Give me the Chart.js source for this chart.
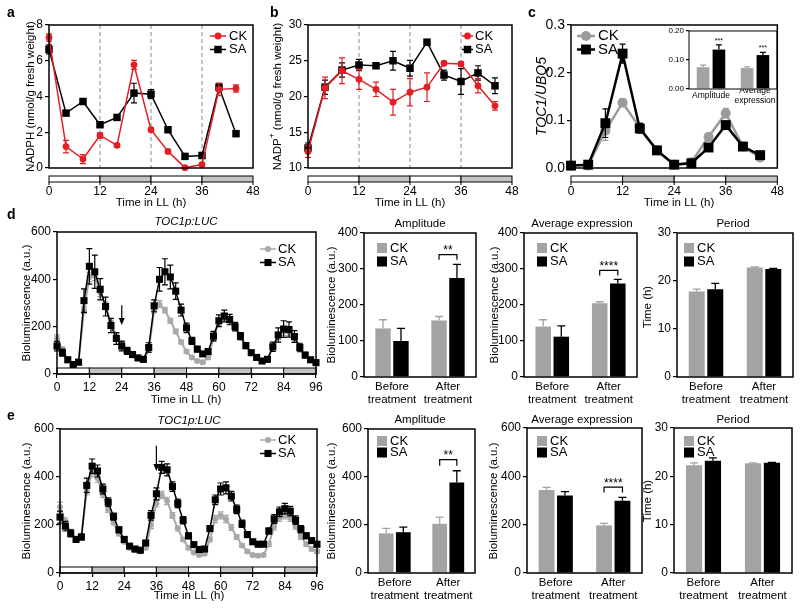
<!DOCTYPE html>
<html><head><meta charset="utf-8">
<script src="https://cdn.jsdelivr.net/npm/chart.js@4.4.1/dist/chart.umd.min.js"></script>
<style>
html,body{margin:0;padding:0;background:#fff;}
body{width:800px;height:610px;position:relative;overflow:hidden;}
canvas{position:absolute;left:0;top:0;}
</style></head><body>
<script>
// ---------- DATA ----------
const hoursABC = [0,4,8,12,16,20,24,28,32,36,40,44];
const nadphCK = [7.3,1.2,0.5,1.82,1.27,5.77,2.14,0.93,0.02,0.19,4.4,4.45];
const nadphCKErr = [0.2,0.35,0.25,0.15,0.1,0.25,0.1,0.1,0.05,0.1,0.35,0.2];
const nadphSA = [6.64,3.07,3.72,2.42,2.83,4.19,4.13,2.14,0.65,0.7,4.52,1.92];
const nadphSAErr = [0.25,0.12,0.12,0.1,0.08,0.55,0.25,0.1,0.05,0.1,0.2,0.1];

const nadpCK = [12.3,21.2,23.6,22.4,21.0,19.2,20.6,21.3,24.65,24.56,21.5,18.7];
const nadpCKErr = [0.8,1.5,1.8,1.4,1.0,1.8,1.9,2.0,0.2,0.3,1.0,0.6];
const nadpSA = [12.8,21.3,23.7,24.4,24.3,25.0,23.95,27.6,23.0,22.1,23.3,21.5];
const nadpSAErr = [0.7,1.0,1.0,0.8,0.3,1.3,1.1,0.3,0.7,1.8,1.0,1.1];

const toc1CK = [0.005,0.005,0.078,0.137,0.085,0.037,0.007,0.012,0.065,0.115,0.045,0.022];
const toc1CKErr = [0.003,0.002,0.02,0.008,0.01,0.004,0.003,0.003,0.008,0.01,0.004,0.003];
const toc1SA = [0.005,0.007,0.094,0.24,0.083,0.037,0.007,0.01,0.043,0.09,0.045,0.027];
const toc1SAErr = [0.003,0.003,0.03,0.02,0.01,0.004,0.003,0.003,0.008,0.008,0.004,0.003];

const insetCats = ['Amplitude', ['Average','expression']];
const insetCK = [0.075, 0.072];
const insetCKErr = [0.007, 0.004];
const insetSA = [0.136, 0.117];
const insetSAErr = [0.016, 0.009];

const hoursDE = [0,2,4,6,8,10,12,14,16,18,20,22,24,26,28,30,32,34,36,38,40,42,44,46,48,50,52,54,56,58,60,62,64,66,68,70,72,74,76,78,80,82,84,86,88,90,92,94,96];
const dSA = [118,90,60,40,50,310,455,432,358,285,205,150,118,98,82,68,62,112,288,400,432,410,350,270,195,140,105,85,95,160,225,245,230,200,160,120,90,70,55,62,115,165,190,188,158,112,80,60,48];
const dSAErr = [20,15,10,8,10,50,75,70,45,40,30,25,20,15,12,10,10,20,25,50,55,50,35,25,20,15,12,10,12,20,25,25,22,18,15,12,10,8,8,10,20,30,35,32,25,18,12,10,8];
const dCK = [150,105,62,42,50,270,410,415,345,290,215,165,130,100,80,66,60,100,270,295,270,225,180,135,95,70,55,50,70,150,220,238,228,195,155,115,88,68,55,62,110,160,180,178,150,108,78,58,46];
const dCKErr = [15,10,8,6,8,15,20,20,18,15,12,10,10,8,8,6,6,10,12,15,12,10,10,8,8,6,6,6,8,12,15,15,12,10,10,8,6,6,6,8,12,15,18,15,12,10,8,6,6];

const eSA = [233,195,165,140,150,365,445,425,350,295,235,180,140,112,100,95,125,240,330,440,430,360,290,220,155,118,98,100,185,305,350,355,320,265,205,160,130,120,120,175,225,255,268,258,220,182,155,135,120];
const eSAErr = [25,20,15,12,12,30,30,25,20,18,15,12,10,10,8,8,10,20,25,25,25,20,18,15,12,10,8,8,12,20,25,25,20,18,15,12,10,10,10,12,18,20,22,20,18,15,12,10,10];
const eCK = [275,215,170,140,150,345,420,395,330,265,210,165,130,105,95,90,105,200,290,325,300,240,185,140,105,85,75,80,140,225,240,225,190,150,115,90,75,72,75,120,195,230,240,230,195,150,120,100,90];
const eCKErr = [20,15,12,10,10,20,20,18,15,12,10,10,8,8,6,6,8,15,15,15,15,12,10,8,8,6,6,6,10,15,15,15,12,10,8,6,6,6,6,10,15,15,15,15,12,10,8,8,8];

const barCats = [['Before','treatment'],['After','treatment']];
const dAmpCK = [135,157], dAmpCKErr = [24,11], dAmpSA = [100,275], dAmpSAErr = [35,38];
const dAvgCK = [140,205], dAvgCKErr = [19,4], dAvgSA = [112,260], dAvgSAErr = [30,11];
const dPerCK = [17.8,22.8], dPerCKErr = [0.5,0.12], dPerSA = [18.3,22.5], dPerSAErr = [1.2,0.15];
const eAmpCK = [165,205], eAmpCKErr = [21,28], eAmpSA = [170,377], eAmpSAErr = [21,49];
const eAvgCK = [343,197], eAvgCKErr = [11,8], eAvgSA = [321,299], eAvgSAErr = [16,14];
const ePerCK = [22.3,22.7], ePerCKErr = [0.5,0.1], ePerSA = [23.2,22.8], ePerSAErr = [0.6,0.1];

const ldBounds48 = [0,12,24,36,48];
const ldBounds96 = [0,12,24,36,48,60,72,84,96];

// ---------- STYLE ----------
const FF = "'Liberation Sans', Arial, Helvetica, sans-serif";
const F = (s, st) => (st ? st + ' ' : '') + s + 'px ' + FF;
Chart.defaults.font.family = FF;
Chart.defaults.font.size = 12;
Chart.defaults.color = '#000';
const RED = '#e31e25', LGRAY = '#a9a9a9', CGRAY = '#9b9b9b', BGRAY = '#a3a3a5', BAND = '#c4c4c4';

function marker(ctx, kind, x, y, r, color) {
  ctx.fillStyle = color;
  if (kind === 'rect') { const h = r * Math.SQRT1_2; ctx.fillRect(x - h, y - h, 2 * h, 2 * h); }
  else if (kind === 'square') { ctx.fillRect(x, y - r, 2 * r, 2 * r); }
  else { ctx.beginPath(); ctx.arc(x, y, r, 0, Math.PI * 2); ctx.fill(); }
}
function drawText(ctx, T) {
  ctx.save();
  ctx.translate(T.x, T.y);
  if (T.rot) ctx.rotate(-Math.PI / 2);
  const segs = T.segs || [{ t: T.t }];
  let w = 0;
  segs.forEach(s => { ctx.font = s.f || T.f; s._w = ctx.measureText(s.t).width; w += s._w; });
  let x = T.a === 'left' ? 0 : (T.a === 'right' ? -w : -w / 2);
  ctx.textBaseline = 'middle'; ctx.textAlign = 'left'; ctx.fillStyle = T.c || '#000';
  segs.forEach(s => { ctx.font = s.f || T.f; ctx.fillText(s.t, x, s.dy || 0); x += s._w; });
  ctx.restore();
}
function drawBand(ctx, xs, bounds, y0, y1) {
  ctx.save();
  ctx.lineWidth = 1; ctx.strokeStyle = '#000';
  for (let i = 0; i < bounds.length - 1; i++) {
    const a = xs.getPixelForValue(bounds[i]), b = xs.getPixelForValue(bounds[i + 1]);
    ctx.fillStyle = i % 2 ? BAND : '#fff';
    ctx.fillRect(a, y0, b - a, y1 - y0);
    ctx.strokeRect(a, y0, b - a, y1 - y0);
  }
  ctx.restore();
}

const decor = {
  id: 'decor',
  beforeDatasetsDraw(chart, args, o) {
    const ctx = chart.ctx, ca = chart.chartArea, xs = chart.scales.x;
    if (o.vlines) {
      ctx.save(); ctx.strokeStyle = '#8a8a8a'; ctx.lineWidth = 1; ctx.setLineDash([4, 3]);
      o.vlines.forEach(v => { const p = xs.getPixelForValue(v); ctx.beginPath(); ctx.moveTo(p, ca.top); ctx.lineTo(p, ca.bottom); ctx.stroke(); });
      ctx.restore();
    }
    if (o.innerBand) drawBand(ctx, xs, o.innerBand.bounds, ca.bottom - o.innerBand.h, ca.bottom);
  },
  afterDatasetDraw(chart, args) {
    const ds = chart.data.datasets[args.index];
    if (!ds.err) return;
    const ctx = chart.ctx, ys = chart.scales.y;
    ctx.save(); ctx.strokeStyle = ds.errColor || ds.borderColor; ctx.lineWidth = ds.errWidth || 1.2;
    const cap = ds.cap || 3;
    args.meta.data.forEach((el, i) => {
      const raw = ds.data[i]; const v = (typeof raw === 'object') ? raw.y : raw; const e = ds.err[i];
      const x = el.x, yT = ys.getPixelForValue(v + e), yB = ys.getPixelForValue(ds.upOnly ? v : v - e);
      ctx.beginPath(); ctx.moveTo(x, yB); ctx.lineTo(x, yT);
      ctx.moveTo(x - cap, yT); ctx.lineTo(x + cap, yT);
      if (!ds.upOnly) { ctx.moveTo(x - cap, yB); ctx.lineTo(x + cap, yB); }
      ctx.stroke();
    });
    ctx.restore();
  },
  afterDraw(chart, args, o) {
    const ctx = chart.ctx, ca = chart.chartArea, xs = chart.scales.x, ys = chart.scales.y;
    ctx.save();
    if (o.outerBand) {
      const B = o.outerBand;
      drawBand(ctx, xs, B.bounds, B.y0, B.y1);
      ctx.strokeStyle = '#000'; ctx.lineWidth = 1;
      B.bounds.forEach(v => { const p = xs.getPixelForValue(v); ctx.beginPath(); ctx.moveTo(p, B.y1); ctx.lineTo(p, B.y1 + 3); ctx.stroke(); });
    }
    if (o.box) { ctx.strokeStyle = '#000'; ctx.lineWidth = o.box; ctx.strokeRect(ca.left, ca.top, ca.right - ca.left, ca.bottom - ca.top); }
    if (o.arrows) o.arrows.forEach(A => {
      const x = xs.getPixelForValue(A.x), y1 = ys.getPixelForValue(A.y1), y2 = ys.getPixelForValue(A.y2);
      ctx.strokeStyle = '#000'; ctx.fillStyle = '#000'; ctx.lineWidth = 1.2;
      ctx.beginPath(); ctx.moveTo(x, y1); ctx.lineTo(x, y2 - 5); ctx.stroke();
      ctx.beginPath(); ctx.moveTo(x - 3, y2 - 7); ctx.lineTo(x + 3, y2 - 7); ctx.lineTo(x, y2); ctx.closePath(); ctx.fill();
    });
    if (o.brackets) o.brackets.forEach(Bk => {
      const x1 = chart.getDatasetMeta(0).data[Bk.idx].x, x2 = chart.getDatasetMeta(1).data[Bk.idx].x;
      const y = ys.getPixelForValue(Bk.y), yl = ys.getPixelForValue(Bk.leg);
      ctx.strokeStyle = '#000'; ctx.lineWidth = 1.2;
      ctx.beginPath(); ctx.moveTo(x1, yl); ctx.lineTo(x1, y); ctx.lineTo(x2, y); ctx.lineTo(x2, yl); ctx.stroke();
      drawText(ctx, { t: Bk.t, x: (x1 + x2) / 2, y: y - 4, f: F(Bk.fs || 12) });
    });
    if (o.stars) o.stars.forEach(S => {
      const ds = chart.data.datasets[S.ds]; const el = chart.getDatasetMeta(S.ds).data[S.idx];
      const y = ys.getPixelForValue(ds.data[S.idx] + ds.err[S.idx]) - 4;
      drawText(ctx, { t: S.t, x: el.x, y: y, f: F(S.fs || 7) });
    });
    if (o.legend) {
      const L = o.legend;
      L.items.forEach((it, i) => {
        const y = L.y + i * L.dy;
        if (it.k === 'square') { marker(ctx, 'square', L.x, y, it.r, it.c); }
        else {
          ctx.strokeStyle = it.c; ctx.lineWidth = it.lw;
          ctx.beginPath(); ctx.moveTo(L.x, y); ctx.lineTo(L.x + L.len, y); ctx.stroke();
          marker(ctx, it.k, L.x + L.len / 2, y, it.r, it.c);
        }
        drawText(ctx, { t: it.t, x: L.x + L.tx, y: y, f: L.font, a: 'left' });
      });
    }
    if (o.texts) o.texts.forEach(T => drawText(ctx, T));
    ctx.restore();
  }
};

// ---------- HELPERS ----------
const CW = 800, CH = 680, YW = 40, XH = 45;
function mk(area, cfg) {
  const c = document.createElement('canvas'); c.width = CW; c.height = CH; document.body.appendChild(c);
  cfg.options.responsive = false; cfg.options.animation = false; cfg.options.events = []; cfg.options.devicePixelRatio = 1;
  cfg.options.layout = { padding: { left: area.l - YW, top: area.t, right: CW - area.r, bottom: CH - area.b - XH } };
  cfg.options.scales.y.afterFit = s => { s.width = YW; };
  cfg.options.scales.x.afterFit = s => { s.height = XH; };
  cfg.options.plugins.legend = { display: false };
  cfg.options.plugins.tooltip = { enabled: false };
  cfg.plugins = [decor];
  return new Chart(c, cfg);
}
function yLin(min, max, step, size, fmt, tl) {
  const t = { stepSize: step, padding: 2, font: { size: size || 12 } };
  if (fmt) t.callback = fmt;
  return { type: 'linear', min, max, ticks: t, grid: { drawOnChartArea: false, drawTicks: true, tickLength: tl || 4, color: '#000', lineWidth: 1.2 }, border: { display: false } };
}
function xLin(max, pad, ticksOn) {
  return { type: 'linear', min: 0, max, ticks: { stepSize: 12, padding: pad, font: { size: 12 }, maxRotation: 0, minRotation: 0, autoSkip: false },
    grid: { drawOnChartArea: false, drawTicks: ticksOn, tickLength: 4, color: '#000', lineWidth: 1.2 }, border: { display: false } };
}
function xCat(size, pad, cross, lh) {
  return { type: 'category', ticks: { font: { size: size, lineHeight: lh || 1.15 }, padding: pad, crossAlign: cross, maxRotation: 0, minRotation: 0, autoSkip: false },
    grid: { drawOnChartArea: false, drawTicks: false }, border: { display: false } };
}
function lineDS(xv, yv, err, color, style, r, bw, order) {
  return { data: xv.map((x, i) => ({ x: x, y: yv[i] })), err: err, borderColor: color, backgroundColor: color,
    pointBackgroundColor: color, pointBorderColor: color, pointStyle: style, pointRadius: r, pointBorderWidth: 0,
    borderWidth: bw, order: order, clip: false, tension: 0, cap: 3 };
}
function barDS(vals, err, color, cp, bp, cap) {
  return { data: vals, err: err, backgroundColor: color, borderWidth: 0, upOnly: true, errColor: color, errWidth: 1.3, cap: cap || 4,
    categoryPercentage: cp || 0.64, barPercentage: bp || 0.86 };
}
const legLine = (x, y, tx, len, fs, ckc, ckr, sar, lw) => ({ x, y, dy: 13.5, tx, len, font: F(fs),
  items: [{ t: 'CK', c: ckc, k: 'circle', r: ckr, lw: lw }, { t: 'SA', c: '#000', k: 'rect', r: sar, lw: lw }] });
const legSq = (x, y, dy) => ({ x, y, dy: dy, tx: 13, len: 0, font: F(13),
  items: [{ t: 'CK', c: BGRAY, k: 'square', r: 5 }, { t: 'SA', c: '#000', k: 'square', r: 5 }] });
const yT = (t, x, y, extra) => Object.assign({ t: t, x: x, y: y, f: F(11.5), rot: 1 }, extra || {});
const tT = (t, x, y, extra) => Object.assign({ t: t, x: x, y: y, f: F(11.5) }, extra || {});
const BX = () => xCat(11.5, 3, 'near', 1.15);

// ---------- PANEL a ----------
mk({ l: 49, t: 25, r: 253, b: 168 }, {
  type: 'line',
  data: { datasets: [lineDS(hoursABC, nadphCK, nadphCKErr, RED, 'circle', 3.4, 1.5, 1), lineDS(hoursABC, nadphSA, nadphSAErr, '#000', 'rect', 5.3, 1.5, 2)] },
  options: { scales: { x: xLin(48, 16, false), y: yLin(0, 8, 2, 12) },
    plugins: { decor: { box: 1.5, vlines: [12, 24, 36], outerBand: { y0: 176, y1: 182, bounds: ldBounds48 },
      legend: legLine(210, 36, 19, 16, 13, RED, 3.4, 5.3, 1.5),
      texts: [{ t: 'a', x: 7, y: 13, f: F(14, 'bold'), a: 'left' }, yT('NADPH (nmol/g fresh weight)', 31, 96.5), tT('Time in LL (h)', 151, 203)] } } }
});
// ---------- PANEL b ----------
mk({ l: 308, t: 25, r: 512, b: 168 }, {
  type: 'line',
  data: { datasets: [lineDS(hoursABC, nadpCK, nadpCKErr, RED, 'circle', 3.4, 1.5, 1), lineDS(hoursABC, nadpSA, nadpSAErr, '#000', 'rect', 5.3, 1.5, 2)] },
  options: { scales: { x: xLin(48, 16, false), y: yLin(10, 30, 5, 12) },
    plugins: { decor: { box: 1.5, vlines: [12, 24, 36], outerBand: { y0: 176, y1: 182, bounds: ldBounds48 },
      legend: legLine(462, 36, 13, 11, 13, RED, 3.4, 5.3, 1.5),
      texts: [{ t: 'b', x: 270, y: 13, f: F(14, 'bold'), a: 'left' },
        { segs: [{ t: 'NADP', f: F(11.5) }, { t: '+', f: F(8.5), dy: -5 }, { t: ' (nmol/g fresh weight)', f: F(11.5) }], x: 278, y: 96.5, rot: 1 },
        tT('Time in LL (h)', 410, 203)] } } }
});
// ---------- PANEL c ----------
mk({ l: 571, t: 25, r: 787, b: 168 }, {
  type: 'line',
  data: { datasets: [lineDS(hoursABC, toc1CK, toc1CKErr, CGRAY, 'circle', 5, 2.5, 2), lineDS(hoursABC, toc1SA, toc1SAErr, '#000', 'rect', 7, 2.5, 1)] },
  options: { scales: { x: xLin(48, 16, false), y: yLin(0, 0.3, 0.1, 14, v => v.toFixed(1)) },
    plugins: { decor: { box: 1.5, outerBand: { y0: 176, y1: 182, bounds: ldBounds48 },
      legend: legLine(577, 36, 21, 18, 15, CGRAY, 5, 7, 2.5),
      texts: [{ t: 'c', x: 528, y: 13, f: F(14, 'bold'), a: 'left' }, yT('TOC1/UBQ5', 542, 96.5, { f: F(14, 'italic') }), tT('Time in LL (h)', 679, 203)] } } }
});
// inset
mk({ l: 689, t: 31, r: 777, b: 89 }, {
  type: 'bar',
  data: { labels: insetCats, datasets: [barDS(insetCK, insetCKErr, BGRAY, 0.72, 0.8, 3), barDS(insetSA, insetSAErr, '#000', 0.72, 0.8, 3)] },
  options: { scales: { x: xCat(8.5, 2, 'center', 1.1), y: yLin(0, 0.2, 0.1, 8, v => v.toFixed(2), 3) },
    plugins: { decor: { box: 1, stars: [{ ds: 1, idx: 0, t: '***' }, { ds: 1, idx: 1, t: '***' }] } } }
});
// ---------- PANEL d ----------
mk({ l: 57, t: 232, r: 316, b: 374 }, {
  type: 'line',
  data: { datasets: [lineDS(hoursDE, dCK, dCKErr, LGRAY, 'circle', 3, 2, 2), lineDS(hoursDE, dSA, dSAErr, '#000', 'rect', 5, 1.5, 1)] },
  options: { scales: { x: xLin(96, 2, true), y: yLin(0, 600, 200, 12) },
    plugins: { decor: { box: 1.5, innerBand: { h: 6, bounds: ldBounds96 }, arrows: [{ x: 24, y1: 290, y2: 207 }],
      legend: legLine(260, 249, 18, 16, 13, LGRAY, 3, 5, 1.5),
      texts: [{ t: 'd', x: 7, y: 215, f: F(14, 'bold'), a: 'left' }, tT('TOC1p:LUC', 186, 222, { f: F(11.5, 'italic') }),
        yT('Bioluminescence (a.u.)', 27, 303), tT('Time in LL (h)', 186, 400)] } } }
});
mk({ l: 364, t: 233, r: 476, b: 377 }, {
  type: 'bar',
  data: { labels: barCats, datasets: [barDS(dAmpCK, dAmpCKErr, BGRAY), barDS(dAmpSA, dAmpSAErr, '#000')] },
  options: { scales: { x: BX(), y: yLin(0, 400, 100, 12) },
    plugins: { decor: { box: 1.5, legend: legSq(377, 248, 13.5), brackets: [{ idx: 1, y: 340, leg: 326, t: '**' }],
      texts: [tT('Amplitude', 420, 224), yT('Bioluminescence (a.u.)', 332, 305)] } } }
});
mk({ l: 524, t: 233, r: 637, b: 377 }, {
  type: 'bar',
  data: { labels: barCats, datasets: [barDS(dAvgCK, dAvgCKErr, BGRAY), barDS(dAvgSA, dAvgSAErr, '#000')] },
  options: { scales: { x: BX(), y: yLin(0, 400, 100, 12) },
    plugins: { decor: { box: 1.5, legend: legSq(537, 248, 13.5), brackets: [{ idx: 1, y: 296, leg: 282, t: '****' }],
      texts: [tT('Average expression', 582, 224), yT('Bioluminescence (a.u.)', 495, 305)] } } }
});
mk({ l: 677, t: 233, r: 793, b: 377 }, {
  type: 'bar',
  data: { labels: barCats, datasets: [barDS(dPerCK, dPerCKErr, BGRAY), barDS(dPerSA, dPerSAErr, '#000')] },
  options: { scales: { x: BX(), y: yLin(0, 30, 10, 12) },
    plugins: { decor: { box: 1.5, legend: legSq(684, 248, 13.5),
      texts: [tT('Period', 733, 224), yT('Time (h)', 648, 307)] } } }
});
// ---------- PANEL e ----------
mk({ l: 60, t: 429, r: 317, b: 573 }, {
  type: 'line',
  data: { datasets: [lineDS(hoursDE, eCK, eCKErr, LGRAY, 'circle', 3, 2, 2), lineDS(hoursDE, eSA, eSAErr, '#000', 'rect', 5, 1.5, 1)] },
  options: { scales: { x: xLin(96, 2, true), y: yLin(0, 600, 200, 12) },
    plugins: { decor: { box: 1.5, innerBand: { h: 6, bounds: ldBounds96 }, arrows: [{ x: 36, y1: 530, y2: 425 }],
      legend: legLine(260, 440, 18, 16, 13, LGRAY, 3, 5, 1.5),
      texts: [{ t: 'e', x: 7, y: 416, f: F(14, 'bold'), a: 'left' }, tT('TOC1p:LUC', 189, 421, { f: F(11.5, 'italic') }),
        yT('Bioluminescence (a.u.)', 27, 501), tT('Time in LL (h)', 189, 596)] } } }
});
mk({ l: 368, t: 429, r: 475, b: 573 }, {
  type: 'bar',
  data: { labels: barCats, datasets: [barDS(eAmpCK, eAmpCKErr, BGRAY), barDS(eAmpSA, eAmpSAErr, '#000')] },
  options: { scales: { x: BX(), y: yLin(0, 600, 200, 12) },
    plugins: { decor: { box: 1.5, legend: legSq(377, 441, 11.5), brackets: [{ idx: 1, y: 472, leg: 447, t: '**' }],
      texts: [tT('Amplitude', 420, 420), yT('Bioluminescence (a.u.)', 332, 501)] } } }
});
mk({ l: 527, t: 428, r: 642, b: 573 }, {
  type: 'bar',
  data: { labels: barCats, datasets: [barDS(eAvgCK, eAvgCKErr, BGRAY), barDS(eAvgSA, eAvgSAErr, '#000')] },
  options: { scales: { x: BX(), y: yLin(0, 600, 200, 12) },
    plugins: { decor: { box: 1.5, legend: legSq(537, 441, 11.5), brackets: [{ idx: 1, y: 355, leg: 333, t: '****' }],
      texts: [tT('Average expression', 582, 420), yT('Bioluminescence (a.u.)', 494, 501)] } } }
});
mk({ l: 674, t: 428, r: 792, b: 573 }, {
  type: 'bar',
  data: { labels: barCats, datasets: [barDS(ePerCK, ePerCKErr, BGRAY), barDS(ePerSA, ePerSAErr, '#000')] },
  options: { scales: { x: BX(), y: yLin(0, 30, 10, 12) },
    plugins: { decor: { box: 1.5, legend: legSq(684, 441, 11.5),
      texts: [tT('Period', 733, 420), yT('Time (h)', 648, 501)] } } }
});
</script>
</body></html>
